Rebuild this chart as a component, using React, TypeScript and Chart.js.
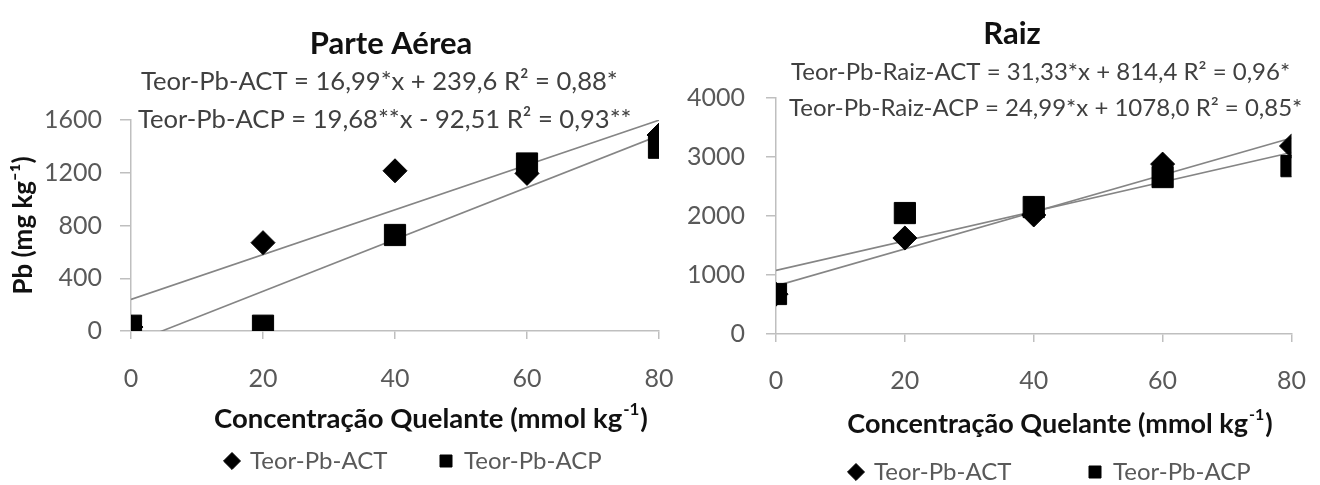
import React, { useEffect, useRef } from "react";
import { Chart, registerables } from "chart.js";

Chart.register(...registerables);

const FONT = "Lato, 'Noto Sans', sans-serif";

// ---------- shared ----------
const concentracao = [0, 20, 40, 60, 80];
const xTickValues = [0, 20, 40, 60, 80];
const seriesNames = ["Teor-Pb-ACT", "Teor-Pb-ACP"];
const trendNames = ["Linear (Teor-Pb-ACT)", "Linear (Teor-Pb-ACP)"];
const xTitleMain = "Concentração Quelante (mmol kg";
const xTitleSup = "-1";
const xTitleTail = ")";
const yTitleAerea = "Pb (mg kg⁻¹)";

// ---------- Parte Aérea ----------
const aereaTitle = "Parte Aérea";
const aereaACT = [30, 670, 1215, 1195, 1486];
const aereaACP = [40, 40, 728, 1270, 1390];
const aereaCoefACT = [16.99, 239.6];
const aereaCoefACP = [19.68, -92.51];
const aereaEqACT = "Teor-Pb-ACT = 16,99*x + 239,6 R² = 0,88*";
const aereaEqACP = "Teor-Pb-ACP = 19,68**x - 92,51 R² = 0,93**";
const aereaYTicks = [0, 400, 800, 1200, 1600];

// ---------- Raiz ----------
const raizTitle = "Raiz";
const raizACT = [675, 1627, 2017, 2880, 3186];
const raizACP = [678, 2050, 2152, 2660, 2845];
const raizCoefACT = [31.33, 814.4];
const raizCoefACP = [24.99, 1078.0];
const raizEqACT = "Teor-Pb-Raiz-ACT = 31,33*x + 814,4 R² = 0,96*";
const raizEqACP = "Teor-Pb-Raiz-ACP = 24,99*x + 1078,0 R² = 0,85*";
const raizYTicks = [0, 1000, 2000, 3000, 4000];

type Series = {
  act: number[];
  acp: number[];
  coefAct: number[];
  coefAcp: number[];
  yTicks: number[];
};

const aereaSeries: Series = { act: aereaACT, acp: aereaACP, coefAct: aereaCoefACT, coefAcp: aereaCoefACP, yTicks: aereaYTicks };
const raizSeries: Series = { act: raizACT, acp: raizACP, coefAct: raizCoefACT, coefAcp: raizCoefACP, yTicks: raizYTicks };

// ---------- layout (positions / sizes only) ----------
const leftLayout = {
  left: 0, width: 700, height: 485,
  area: { top: 120, bottom: 331, left: 131, right: 659 },
  yTitle: yTitleAerea as string | null,
  titleText: aereaTitle, titlePos: { x: 391, y: 44 }, titleSize: 31,
  equations: [aereaEqACT, aereaEqACP], eqPos: [{ x: 141, y: 82 }, { x: 138, y: 120 }], eqSize: 25.6,
  xTitlePos: { x: 431, y: 419 }, xTitleSize: 27.5,
  legendPos: { x1: 226, x2: 440, y: 461 }, legendSize: 24,
  tickSize: 25, yTickLen: 11, yTickPad: 18, xTickLen: 8, xTickPad: 25,
};

const rightLayout = {
  left: 660, width: 670, height: 485,
  area: { top: 98, bottom: 334, left: 116, right: 646 },
  yTitle: null as string | null,
  titleText: raizTitle, titlePos: { x: 352, y: 34 }, titleSize: 31,
  equations: [raizEqACT, raizEqACP], eqPos: [{ x: 131, y: 72 }, { x: 129, y: 108 }], eqSize: 24,
  xTitlePos: { x: 400, y: 424 }, xTitleSize: 27,
  legendPos: { x1: 190, x2: 429, y: 472 }, legendSize: 24,
  tickSize: 25, yTickLen: 10, yTickPad: 21, xTickLen: 8, xTickPad: 24,
};

type Layout = typeof leftLayout;

const LEGEND_BOX_H = 40;

function trendPoints(coef: number[]) {
  const x0 = concentracao[0];
  const x1 = concentracao[concentracao.length - 1];
  return [
    { x: x0, y: coef[0] * x0 + coef[1] },
    { x: x1, y: coef[0] * x1 + coef[1] },
  ];
}

function decorPlugin(L: Layout) {
  return {
    id: "panelDecor",
    afterLayout(chart: any) {
      const lg: any = chart.legend;
      if (!lg || !lg.lineWidths) return;
      const pad = lg.options.labels.padding;
      const x0 = (lg.left + pad + lg.right - lg.lineWidths[0]) / 2;
      const dx = L.legendPos.x1 - x0;
      lg.left += dx;
      lg.right += dx;
      const top = L.legendPos.y - pad - L.legendSize / 2;
      lg.top = top;
      lg.bottom = L.legendPos.y + 30;
    },
    afterDraw(chart: any) {
      const ctx: CanvasRenderingContext2D = chart.ctx;
      ctx.save();
      ctx.textBaseline = "middle";
      // panel title
      ctx.fillStyle = "#111111";
      ctx.textAlign = "center";
      ctx.font = `bold ${L.titleSize}px ${FONT}`;
      ctx.fillText(L.titleText, L.titlePos.x, L.titlePos.y);
      // trend equations
      ctx.fillStyle = "#404040";
      ctx.textAlign = "left";
      ctx.font = `${L.eqSize}px ${FONT}`;
      L.equations.forEach((t, i) => ctx.fillText(t, L.eqPos[i].x, L.eqPos[i].y));
      // x axis title with superscript
      const s = L.xTitleSize;
      const ss = Math.round(s * 0.6);
      ctx.fillStyle = "#111111";
      ctx.font = `bold ${s}px ${FONT}`;
      const w1 = ctx.measureText(xTitleMain).width;
      const w3 = ctx.measureText(xTitleTail).width;
      ctx.font = `bold ${ss}px ${FONT}`;
      const w2 = ctx.measureText(xTitleSup).width + 2;
      const x = L.xTitlePos.x - (w1 + w2 + w3) / 2;
      const y = L.xTitlePos.y;
      ctx.font = `bold ${s}px ${FONT}`;
      ctx.fillText(xTitleMain, x, y);
      ctx.font = `bold ${ss}px ${FONT}`;
      ctx.fillText(xTitleSup, x + w1 + 1, y - s * 0.33);
      ctx.font = `bold ${s}px ${FONT}`;
      ctx.fillText(xTitleTail, x + w1 + w2, y);
      ctx.restore();
    },
  };
}

function Panel({ L, S }: { L: Layout; S: Series }) {
  const ref = useRef<HTMLCanvasElement | null>(null);

  useEffect(() => {
    const canvas = ref.current;
    if (!canvas) return;
    const mctx = canvas.getContext("2d")!;
    mctx.font = `${L.legendSize}px ${FONT}`;
    const tw = mctx.measureText(seriesNames[0]).width;
    const boxW = 12;
    const legendPad = Math.max(4, L.legendPos.x2 - L.legendPos.x1 - boxW - L.legendSize / 2 - tw);
    const axisColor = "#bfbfbf";
    const tickFont = { family: FONT, size: L.tickSize };
    const yMax = S.yTicks[S.yTicks.length - 1];
    const plain = (v: any) => String(v);

    const chart = new Chart(canvas, {
      type: "scatter",
      data: {
        datasets: [
          {
            label: seriesNames[0],
            data: concentracao.map((x, i) => ({ x, y: S.act[i] })),
            pointStyle: "rectRot",
            pointRadius: 12,
            backgroundColor: "#000000",
            borderColor: "#000000",
            borderWidth: 1,
            showLine: false,
          },
          {
            label: seriesNames[1],
            data: concentracao.map((x, i) => ({ x, y: S.acp[i] })),
            pointStyle: "rect",
            pointRadius: 15,
            backgroundColor: "#000000",
            borderColor: "#000000",
            borderWidth: 1,
            showLine: false,
          },
          {
            label: trendNames[0],
            data: trendPoints(S.coefAct),
            showLine: true,
            pointRadius: 0,
            borderColor: "#858585",
            borderWidth: 1.6,
            backgroundColor: "#858585",
          },
          {
            label: trendNames[1],
            data: trendPoints(S.coefAcp),
            showLine: true,
            pointRadius: 0,
            borderColor: "#858585",
            borderWidth: 1.6,
            backgroundColor: "#858585",
          },
        ],
      } as any,
      options: {
        responsive: false,
        animation: false,
        events: [],
        layout: {
          padding: { top: L.area.top, left: 0, right: L.width - L.area.right, bottom: 0 },
        },
        scales: {
          x: {
            type: "linear",
            min: xTickValues[0],
            max: xTickValues[xTickValues.length - 1],
            afterBuildTicks: (s: any) => {
              s.ticks = xTickValues.map((v) => ({ value: v }));
            },
            afterFit: (s: any) => {
              const lg = s.chart.legend;
              s.height = L.height - L.area.bottom - (lg ? lg.height : 0);
            },
            grid: { drawOnChartArea: false, drawTicks: true, tickLength: L.xTickLen, color: axisColor, lineWidth: 1.5 },
            border: { display: true, color: axisColor, width: 1.5 },
            ticks: { font: tickFont, color: "#595959", padding: L.xTickPad, maxRotation: 0, autoSkip: false, callback: plain },
            title: { display: false },
          },
          y: {
            type: "linear",
            min: S.yTicks[0],
            max: yMax,
            afterBuildTicks: (s: any) => {
              s.ticks = S.yTicks.map((v) => ({ value: v }));
            },
            afterFit: (s: any) => {
              s.width = L.area.left;
            },
            grid: { drawOnChartArea: false, drawTicks: true, tickLength: L.yTickLen, color: axisColor, lineWidth: 1.5 },
            border: { display: true, color: axisColor, width: 1.5 },
            ticks: { font: tickFont, color: "#595959", padding: L.yTickPad, autoSkip: false, callback: plain },
            title: L.yTitle
              ? {
                  display: true,
                  text: L.yTitle,
                  color: "#111111",
                  font: { family: FONT, size: 26, weight: "bold" },
                  padding: { top: 8, bottom: 0 },
                }
              : { display: false },
          },
        },
        plugins: {
          legend: {
            display: true,
            position: "bottom",
            fullSize: true,
            align: "center",
            maxHeight: LEGEND_BOX_H,
            labels: {
              usePointStyle: true,
              boxWidth: boxW,
              boxHeight: 12,
              padding: legendPad,
              color: "#595959",
              font: { family: FONT, size: L.legendSize },
              filter: (item: any) => item.datasetIndex < 2,
            },
          },
          tooltip: { enabled: false },
          title: { display: false },
        },
      } as any,
      plugins: [decorPlugin(L)],
    });
    return () => chart.destroy();
  }, []);

  return (
    <canvas
      ref={ref}
      width={L.width}
      height={L.height}
      style={{ position: "absolute", left: L.left, top: 0, width: L.width, height: L.height }}
    />
  );
}

export default function App() {
  return (
    <div
      style={{
        position: "fixed",
        left: 0,
        top: 0,
        width: 1320,
        height: 485,
        overflow: "hidden",
        background: "#ffffff",
      }}
    >
      <Panel L={leftLayout} S={aereaSeries} />
      <Panel L={rightLayout} S={raizSeries} />
    </div>
  );
}
